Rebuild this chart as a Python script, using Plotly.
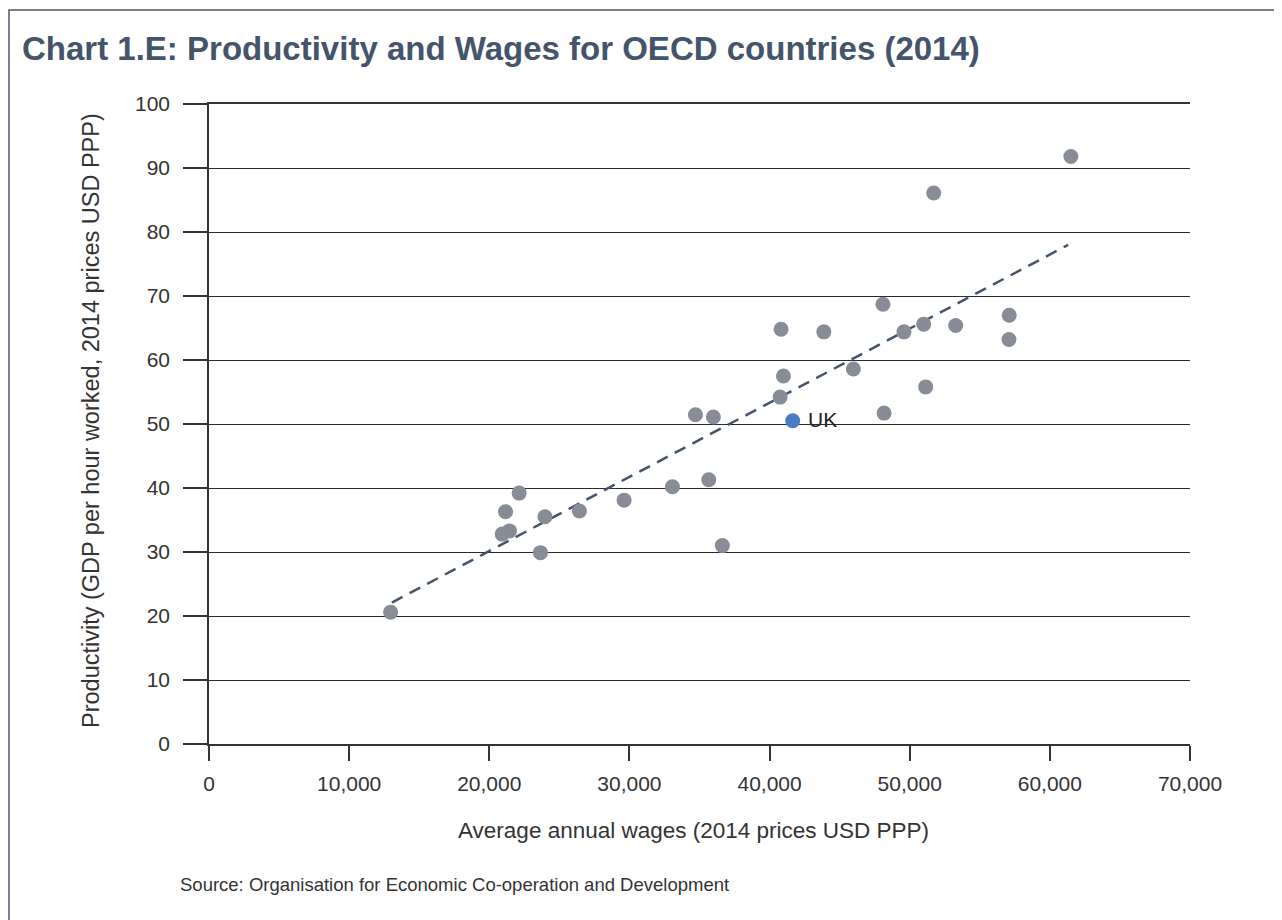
import plotly.graph_objects as go

# Average annual wages (2014 prices USD PPP) and productivity (GDP per hour worked)
wages = [12960, 20920, 21160, 21440, 22130, 23650, 23970, 26430, 29620, 33070,
         34710, 35660, 35990, 36630, 40750, 40820, 40990, 43870, 45980, 48090,
         48170, 49590, 51000, 51140, 51710, 53280, 57080, 57100, 61500]
productivity = [20.6, 32.8, 36.3, 33.3, 39.2, 29.9, 35.5, 36.4, 38.1, 40.2,
                51.45, 41.3, 51.1, 31.0, 54.2, 64.8, 57.5, 64.4, 58.6, 68.7,
                51.7, 64.4, 65.6, 55.8, 86.1, 65.4, 63.2, 67.0, 91.8]

uk_wage = [41650]
uk_productivity = [50.5]
uk_label = "UK"

trend_x = [13050, 61310]
trend_y = [22.1, 78.0]

x_ticks = [0, 10000, 20000, 30000, 40000, 50000, 60000, 70000]
y_ticks = [0, 10, 20, 30, 40, 50, 60, 70, 80, 90, 100]

FONT = "Liberation Sans"
TXT = "#333333"

# page has an 8px body margin; figure sized to fill the window
W, H = 1274, 912
PL, PT, PW, PH = 201, 96, 981, 640


def px(page_x):
    return (page_x - 209) / PW


def py(page_y):
    return (744 - page_y) / PH


fig = go.Figure()
fig.add_trace(go.Scatter(
    x=trend_x, y=trend_y, mode="lines",
    line=dict(color="#44546a", width=2.5, dash="12px,8px"),
    hoverinfo="skip", showlegend=False))
fig.add_trace(go.Scatter(
    x=wages, y=productivity, mode="markers",
    marker=dict(color="#878c96", size=15, line=dict(width=0)),
    showlegend=False))
fig.add_trace(go.Scatter(
    x=uk_wage, y=uk_productivity, mode="markers",
    marker=dict(color="#4a7cc4", size=15, line=dict(width=0)),
    showlegend=False))

fig.add_annotation(x=uk_wage[0], y=uk_productivity[0], text=uk_label,
                   xanchor="left", yanchor="middle", xshift=13, yshift=1,
                   showarrow=False, font=dict(family=FONT, size=21, color="#222222"))

fig.update_layout(
    width=W, height=H,
    margin=dict(l=PL, r=W - PL - PW, t=PT, b=H - PT - PH),
    paper_bgcolor="white", plot_bgcolor="white",
    font=dict(family=FONT, color=TXT),
    title=dict(
        text="<b>Chart 1.E: Productivity and Wages for OECD countries (2014)</b>",
        x=(22 - 8) / W, xanchor="left", y=1 - (48 - 8) / H, yanchor="middle",
        font=dict(family=FONT, size=33, color="#44546a")),
)

fig.update_xaxes(
    range=[0, 70000], tickvals=x_ticks, tickformat=",d",
    showgrid=False, zeroline=False,
    showline=True, linecolor=TXT, linewidth=1.5, mirror=True,
    ticks="outside", ticklen=15, tickcolor=TXT, tickwidth=1.5,
    ticklabelstandoff=5,
    tickfont=dict(family=FONT, size=21, color=TXT),
)
fig.update_yaxes(
    range=[0, 100], tickvals=y_ticks,
    showgrid=True, gridcolor="#2a2a2a", gridwidth=1, zeroline=False,
    showline=True, linecolor=TXT, linewidth=1.5,
    ticks="outside", ticklen=24, tickcolor=TXT, tickwidth=1.5,
    ticklabelstandoff=9,
    tickfont=dict(family=FONT, size=21, color=TXT),
)

# axis titles
fig.add_annotation(text="Average annual wages (2014 prices USD PPP)",
                   xref="paper", yref="paper", x=px(693), y=py(830),
                   xanchor="center", yanchor="middle", showarrow=False,
                   font=dict(family=FONT, size=22.5, color=TXT))
fig.add_annotation(text="Productivity (GDP per hour worked, 2014 prices USD PPP)",
                   xref="paper", yref="paper", x=px(91), y=py(421),
                   xanchor="center", yanchor="middle", showarrow=False, textangle=-90,
                   font=dict(family=FONT, size=23.5, color=TXT))

# Outer frame (continues past the right and bottom edges)
fig.add_shape(type="rect", xref="paper", yref="paper",
              x0=px(9), x1=px(1300), y0=py(940), y1=py(10),
              line=dict(color="#4a5a72", width=1.5), layer="below")

fig.add_annotation(
    text="Source: Organisation for Economic Co-operation and Development",
    xref="paper", yref="paper", x=px(178), y=py(884),
    xanchor="left", yanchor="middle", showarrow=False,
    font=dict(family=FONT, size=18.5, color=TXT))

fig.write_html("out.html")
